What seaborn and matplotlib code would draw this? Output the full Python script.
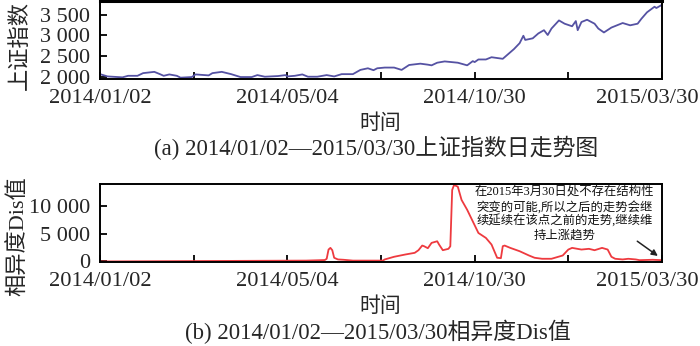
import numpy as np
import pandas as pd
import seaborn as sns
import matplotlib.pyplot as plt
import matplotlib.transforms as mtransforms
from matplotlib.ticker import FuncFormatter, FixedLocator

sns.set_style('white')
plt.rcParams['font.family'] = ['Liberation Serif', 'Noto Sans CJK SC']
plt.rcParams['axes.unicode_minus'] = False

# ---------------- data ----------------
tick_days = [0, 100, 200, 300]
tick_labels = ['2014/01/02', '2014/05/04', '2014/10/30', '2015/03/30']

index_day = [0, 4, 12, 15, 20, 23, 29, 32, 34, 37, 41, 43, 49, 51, 58, 60, 65, 70, 75, 81,
             84, 88, 95, 99, 100, 104, 108, 111, 116, 121, 125, 129, 135, 139, 143, 146, 148,
             152, 157, 161, 165, 171, 175, 177, 180, 184, 191, 196, 199, 200, 202, 206, 209,
             215, 221, 224, 226, 227, 231, 234, 237, 239, 241, 245, 248, 252, 254, 255, 257,
             260, 264, 266, 269, 273, 279, 283, 287, 289, 292, 296, 297, 300]
index_val = [2070, 2015, 1993, 2030, 2030, 2094, 2125, 2070, 2030, 2063, 2030, 1985, 2000,
             2063, 2040, 2094, 2125, 2070, 2000, 2000, 2047, 2008, 2024, 2047, 2015, 2030,
             2063, 2008, 2008, 2047, 2015, 2070, 2070, 2172, 2211, 2165, 2211, 2228, 2228,
             2172, 2290, 2322, 2298, 2282, 2345, 2376, 2345, 2282, 2383, 2360, 2423, 2423,
             2477, 2439, 2674, 2815, 2994, 2893, 2932, 3050, 3128, 3011, 3167, 3363, 3284,
             3222, 3347, 3128, 3324, 3379, 3284, 3167, 3073, 3191, 3300, 3245, 3284, 3402,
             3558, 3692, 3661, 3739]

dis_day = [0, 110, 120, 121, 122, 123, 124, 125, 127, 130, 135, 151, 152, 157, 163, 168, 170,
           172, 173, 175, 177, 180, 181, 183, 186, 187, 188, 189, 191, 193, 196, 199, 202, 206,
           209, 212, 214, 215, 216, 219, 224, 229, 232, 236, 241, 247, 250, 252, 257, 261, 264,
           268, 271, 273, 275, 279, 282, 286, 288, 295, 300]
dis_val = [0, 150, 250, 480, 2140, 2440, 2020, 660, 360, 300, 150, 150, 360, 840, 1250, 1550,
           2020, 2860, 2740, 2380, 3340, 3630, 3040, 2020, 2270, 2730, 12860, 13750, 13450,
           11070, 9290, 7200, 5120, 4230, 3040, 660, 590, 2740, 2860, 2440, 1840, 1070, 660,
           480, 480, 1070, 2140, 2440, 2140, 2270, 2020, 2440, 2140, 840, 480, 360, 480, 360,
           230, 300, 230]

note_text = ("在2015年3月30日处不存在结构性\n突变的可能,所以之后的走势会继\n"
             "续延续在该点之前的走势,继续维\n持上涨趋势")

df_idx = pd.DataFrame({'day': index_day, 'val': index_val})
df_dis = pd.DataFrame({'day': dis_day, 'val': dis_val})

# ---------------- figure ----------------
W, H = 700, 346
fig = plt.figure(figsize=(7, 3.46), dpi=100)

def frac_box(l, t, r, b):
    return [l / W, 1 - b / H, (r - l) / W, (b - t) / H]

ax1 = fig.add_axes(frac_box(100, 1, 662, 79))
ax2 = fig.add_axes(frac_box(100, 184, 662, 262))

thou = FuncFormatter(lambda v, p: f'{int(v):,}'.replace(',', ' '))

sns.lineplot(data=df_idx, x='day', y='val', ax=ax1, color='#5552a3', lw=1.3)
sns.lineplot(data=df_dis, x='day', y='val', ax=ax2, color='#ee3a3f', lw=1.3)

for ax in (ax1, ax2):
    ax.set_xlim(0, 300)
    ax.xaxis.set_major_locator(FixedLocator(tick_days))
    ax.set_xticklabels(tick_labels)
    ax.xaxis.set_minor_locator(FixedLocator([50, 150, 250]))
    ax.tick_params(axis='x', which='both', direction='in', length=5, width=1.3,
                   labelsize=16.2, pad=7, color='black', bottom=True)
    ax.tick_params(axis='y', direction='in', length=5, width=1.3, labelsize=16,
                   pad=7, color='black', left=True)
    ax.yaxis.set_major_formatter(thou)
    ax.set_xlabel('')
    ax.set_ylabel('')
    for s in ax.spines.values():
        s.set_color('black')
        s.set_linewidth(1.4)
    last = ax.get_xticklabels()[-1]
    last.set_transform(last.get_transform() +
                       mtransforms.ScaledTranslation(-15 / 100, 0, fig.dpi_scale_trans))

ax1.spines['top'].set_linewidth(2.2)
ax1.set_ylim(1953, 3830)
ax1.set_yticks([2000, 2500, 3000, 3500])
ax2.set_ylim(-100, 13930)
ax2.set_yticks([0, 5000, 10000])

ax2.text(0.826, 0.615, note_text, transform=ax2.transAxes, ha='center', va='center',
         fontsize=8.9, linespacing=1.18, color='#111111', fontweight='medium')
ax2.annotate('', xy=(299, 700), xytext=(285.6, 3930),
             arrowprops=dict(arrowstyle='-|>', color='#222222', lw=1.1,
                             mutation_scale=9))

fig.text(20 / W, 1 - 46 / H, '上证指数', rotation=90, ha='center', va='center', fontsize=16)
fig.text(19 / W, 1 - 236 / H, '相异度Dis值', rotation=90, ha='center', va='center', fontsize=16)
fig.text(380 / W, 1 - 124 / H, '时间', ha='center', va='center', fontsize=15)
fig.text(376 / W, 1 - 148 / H, '(a) 2014/01/02—2015/03/30上证指数日走势图',
         ha='center', va='center', fontsize=16.5)
fig.text(380 / W, 1 - 307 / H, '时间', ha='center', va='center', fontsize=15)
fig.text(378 / W, 1 - 332 / H, '(b) 2014/01/02—2015/03/30相异度Dis值',
         ha='center', va='center', fontsize=16.5)

fig.savefig('out.png', dpi=100)
